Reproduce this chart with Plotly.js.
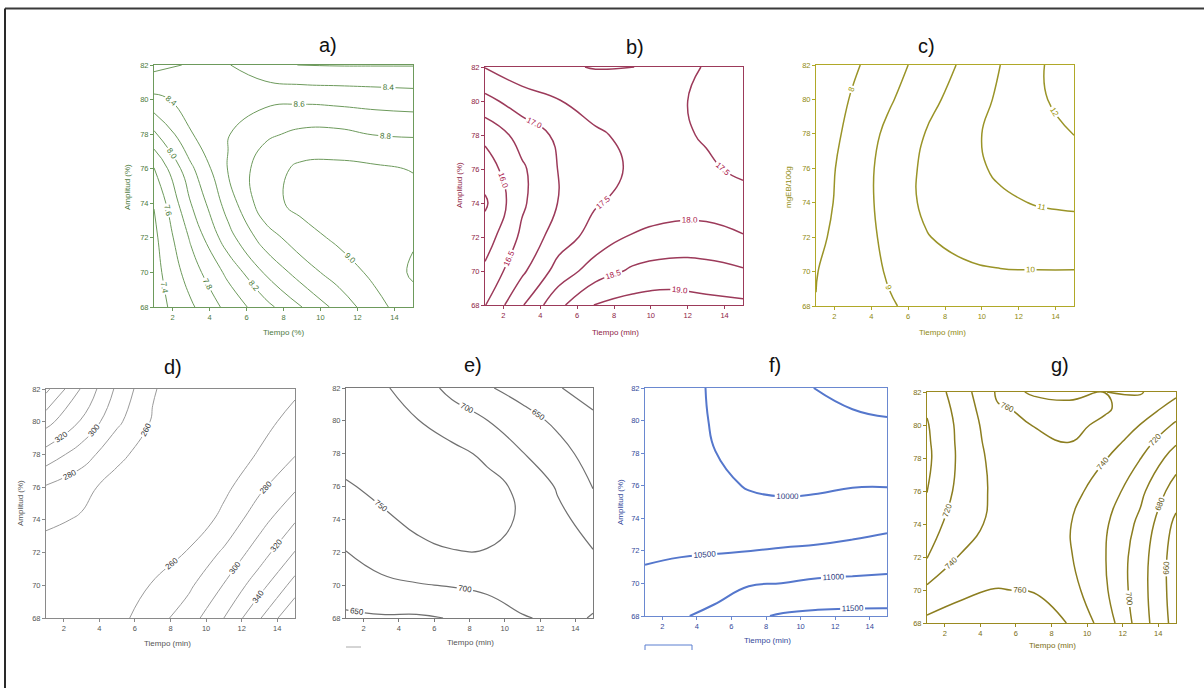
<!DOCTYPE html>
<html>
<head>
<meta charset="utf-8">
<script src="https://cdn.plot.ly/plotly-3.0.1.min.js"></script>
<style>
html,body{margin:0;padding:0;background:#fff}
#chart{width:1204px;height:688px}
</style>
</head>
<body>
<div id="chart"></div>
<script>
// Response surfaces: Tiempo (min) vs Amplitud (%), sampled on a regular grid.
const tiempo   = [1, 3, 5, 7, 9, 11, 13, 15];
const amplitud = [68, 70, 72, 74, 76, 78, 80, 82];
// g) is sampled more densely near the top edge
const amplitudG = [68, 70, 72, 74, 76, 78, 79, 80, 81, 82];
const xTicks   = [2, 4, 6, 8, 10, 12, 14];
const yTicks   = [68, 70, 72, 74, 76, 78, 80, 82];

// a) rows follow amplitud, columns follow tiempo
const zA = [
  [7.30, 7.57, 7.86, 8.13, 8.40, 8.67, 8.94, 9.12],
  [7.32, 7.70, 8.05, 8.42, 8.70, 8.90, 9.05, 9.23],
  [7.35, 7.83, 8.32, 8.70, 8.92, 9.04, 9.12, 9.18],
  [7.41, 8.00, 8.49, 8.93, 9.06, 9.08, 9.07, 9.07],
  [7.59, 8.16, 8.61, 8.92, 9.04, 9.05, 9.03, 8.99],
  [7.96, 8.39, 8.59, 8.76, 8.85, 8.85, 8.79, 8.78],
  [8.35, 8.47, 8.51, 8.55, 8.56, 8.54, 8.52, 8.50],
  [8.66, 8.58, 8.41, 8.27, 8.19, 8.19, 8.19, 8.19]
];
// b)
const zB = [
  [16.48, 17.45, 18.38, 19.03, 19.20, 19.25, 19.15, 19.10],
  [16.10, 16.90, 17.70, 18.25, 18.58, 18.70, 18.68, 18.55],
  [15.75, 16.60, 17.26, 17.70, 18.05, 18.17, 18.15, 18.03],
  [15.42, 16.42, 17.02, 17.46, 17.65, 17.78, 17.82, 17.70],
  [15.75, 16.42, 17.02, 17.35, 17.55, 17.62, 17.58, 17.40],
  [16.12, 16.70, 17.10, 17.43, 17.62, 17.62, 17.45, 17.25],
  [16.85, 17.25, 17.48, 17.70, 17.75, 17.60, 17.40, 17.20],
  [17.52, 17.82, 17.95, 18.02, 18.01, 17.80, 17.45, 17.15]
];
// c) mgEB/100g
const zC = [
  [8.02, 8.50, 8.92, 9.30, 9.55, 9.70, 9.75, 9.80],
  [7.97, 8.50, 9.10, 9.50, 9.80, 9.95, 9.97, 9.97],
  [7.78, 8.50, 9.25, 9.95, 10.35, 10.50, 10.55, 10.56],
  [7.60, 8.46, 9.40, 10.20, 10.62, 10.85, 11.05, 11.15],
  [7.50, 8.45, 9.40, 10.20, 10.72, 11.15, 11.40, 11.55],
  [7.35, 8.30, 9.25, 10.05, 10.70, 11.30, 11.70, 12.02],
  [7.20, 8.10, 8.90, 9.70, 10.45, 11.15, 11.80, 12.50],
  [7.10, 7.85, 8.60, 9.40, 10.15, 11.00, 11.85, 12.60]
];
// d)
const zD = [
  [248, 246, 254, 271, 290, 320, 358, 400],
  [249, 242, 245, 262, 276, 301, 332, 368],
  [252, 245, 238, 242, 262, 283, 310, 341],
  [264, 258, 245, 235, 245, 266, 292, 318],
  [278, 266, 252, 240, 238, 255, 276, 297],
  [312, 290, 265, 250, 240, 245, 262, 279],
  [347, 318, 284, 258, 242, 240, 252, 268],
  [385, 338, 296, 262, 245, 240, 245, 256]
];
// e)
const zE = [
  [640, 645, 644, 652, 675, 698, 705, 699],
  [680, 690, 697, 703, 710, 715, 712, 706],
  [699, 720, 738, 748, 748, 738, 722, 702],
  [725, 742, 760, 768, 765, 745, 712, 680],
  [745, 762, 772, 772, 762, 742, 695, 648],
  [768, 772, 770, 762, 742, 702, 668, 630],
  [770, 765, 752, 728, 701, 670, 640, 610],
  [765, 757, 728, 685, 655, 630, 603, 580]
];
// f)
const zF = [
  [10720, 10950, 11120, 11420, 11550, 11600, 11620, 11620],
  [10580, 10700, 10780, 10960, 11005, 11080, 11100, 11120],
  [10440, 10450, 10470, 10495, 10540, 10580, 10640, 10700],
  [10360, 10310, 10250, 10180, 10160, 10170, 10240, 10330],
  [10320, 10240, 10110, 9970, 9920, 9945, 9985, 9985],
  [10290, 10190, 10005, 9930, 9840, 9810, 9790, 9780],
  [10260, 10150, 9970, 9880, 9760, 9650, 9580, 9530],
  [10230, 10120, 9960, 9830, 9650, 9480, 9350, 9250]
];
// g) rows follow amplitudG
const zG = [
  [765, 772, 782, 782, 758, 732, 690, 652],
  [744, 755, 761, 758, 748, 723, 688, 650],
  [719, 742, 750, 749, 742, 721, 689, 650],
  [710, 733, 745, 745, 741, 723, 695, 655],
  [699.5, 728, 745, 746, 745, 733, 705, 670],
  [696, 726, 748, 751, 754, 741, 720.5, 690],
  [697, 726.5, 751, 756, 760.3, 750, 730, 703],
  [698.5, 727, 754, 760.5, 764, 757, 739.5, 717],
  [702, 729, 758.5, 763, 761.5, 762, 752, 731],
  [706, 732, 763, 759, 758.5, 759.9, 761.5, 745]
];

const W = 1204, H = 688;
const FONT = '"Liberation Sans", Arial, sans-serif';

// Panel setup: plot box in pixels [left, top, right, bottom], title/axis-label anchors, styling
const panels = [
  {z: zA, y: amplitud, lv: [7.4, 9.2, 0.2], fmt: '.1f', box: [154, 65, 413, 307], tag: 'a)', tagAt: [328, 45],
   xt: 'Tiempo (%)', xtAt: [283, 332], yt: 'Amplitud (%)', ytAt: [128, 187],
   line: '#6d9a5c', lab: '#3f7530', axis: '#6d9a5c', tick: '#4d7a40', lw: 1},
  {z: zB, y: amplitud, lv: [15.5, 19.0, 0.5], fmt: '.1f', box: [485, 67, 743, 305], tag: 'b)', tagAt: [635, 47],
   xt: 'Tiempo (min)', xtAt: [615, 332], yt: 'Amplitud (%)', ytAt: [460, 185],
   line: '#9c3a5a', lab: '#a8154a', axis: '#9c3a5a', tick: '#8e2345', lw: 1.5},
  {z: zC, y: amplitud, lv: [8, 12, 1], fmt: '.0f', box: [816, 65, 1074, 306], tag: 'c)', tagAt: [926, 46],
   xt: 'Tiempo (min)', xtAt: [942, 332], yt: 'mgEB/100g', ytAt: [789, 187],
   line: '#9a9428', lab: '#9a9200', axis: '#b0a828', tick: '#8f8a10', lw: 1.5},
  {z: zD, y: amplitud, lv: [260, 380, 20], fmt: '.0f', box: [46, 389, 295, 618], tag: 'd)', tagAt: [173, 367],
   xt: 'Tiempo (min)', xtAt: [167, 643], yt: 'Amplitud (%)', ytAt: [20, 503],
   line: '#9a9a9a', lab: '#333333', axis: '#8a8a8a', tick: '#555555', lw: 1},
  {z: zE, y: amplitud, lv: [600, 750, 50], fmt: '.0f', box: [346, 388, 593, 618], tag: 'e)', tagAt: [473, 365],
   xt: 'Tiempo (min)', xtAt: [470, 642], yt: '', ytAt: null,
   line: '#707070', lab: '#333333', axis: '#7a7a7a', tick: '#555555', lw: 1.2},
  {z: zF, y: amplitud, lv: [9500, 11500, 500], fmt: '.0f', box: [645, 388, 887, 616], tag: 'f)', tagAt: [775, 365],
   xt: 'Tiempo (min)', xtAt: [767, 640], yt: 'Amplitud (%)', ytAt: [620, 502],
   line: '#5577cc', lab: '#2a3a80', axis: '#6a88d0', tick: '#33489a', lw: 2},
  {z: zG, y: amplitudG, lv: [660, 760, 20], fmt: '.0f', box: [927, 392, 1176, 623], tag: 'g)', tagAt: [1060, 365],
   xt: 'Tiempo (min)', xtAt: [1052, 645], yt: '', ytAt: null,
   line: '#8c7e20', lab: '#5e5410', axis: '#9a8a20', tick: '#7a6e12', lw: 1.5}
];

const px = v => v / W;
const py = v => 1 - v / H;

const data = [];
const layout = {
  width: W, height: H,
  margin: {l: 0, r: 0, t: 0, b: 0},
  paper_bgcolor: '#ffffff', plot_bgcolor: '#ffffff',
  showlegend: false,
  font: {family: FONT, color: '#222'},
  annotations: [],
  shapes: []
};

panels.forEach((p, i) => {
  const n = i === 0 ? '' : String(i + 1);
  data.push({
    type: 'contour',
    x: tiempo, y: p.y, z: p.z,
    xaxis: 'x' + n, yaxis: 'y' + n,
    showscale: false, hoverinfo: 'skip',
    autocontour: false,
    contours: {
      start: p.lv[0], end: p.lv[1], size: p.lv[2],
      coloring: 'none', showlabels: true, labelformat: p.fmt,
      labelfont: {family: FONT, size: 8, color: p.lab}
    },
    line: {color: p.line, width: p.lw, smoothing: 1.3}
  });
  const [l, t, r, b] = p.box;
  const common = {
    ticks: 'outside', ticklen: 3, tickwidth: 1, tickcolor: p.axis,
    showline: true, mirror: true, linecolor: p.axis, linewidth: 1,
    showgrid: false, zeroline: false, fixedrange: true,
    tickfont: {family: FONT, size: 7.5, color: p.tick}
  };
  layout['xaxis' + n] = Object.assign({}, common, {
    domain: [px(l), px(r)], range: [1, 15], tickmode: 'array', tickvals: xTicks,
    anchor: 'y' + n
  });
  layout['yaxis' + n] = Object.assign({}, common, {
    domain: [py(b), py(t)], range: [68, 82], tickmode: 'array', tickvals: yTicks,
    anchor: 'x' + n
  });
  layout.annotations.push({
    xref: 'paper', yref: 'paper', x: px(p.tagAt[0]), y: py(p.tagAt[1]),
    text: p.tag, showarrow: false, xanchor: 'center', yanchor: 'middle',
    font: {family: FONT, size: 20, color: '#111'}
  });
  layout.annotations.push({
    xref: 'paper', yref: 'paper', x: px(p.xtAt[0]), y: py(p.xtAt[1]),
    text: p.xt, showarrow: false, xanchor: 'center', yanchor: 'middle',
    font: {family: FONT, size: 8, color: p.tick}
  });
  if (p.ytAt) {
    layout.annotations.push({
      xref: 'paper', yref: 'paper', x: px(p.ytAt[0]), y: py(p.ytAt[1]),
      text: p.yt, showarrow: false, textangle: -90, xanchor: 'center', yanchor: 'middle',
      font: {family: FONT, size: 8, color: p.tick}
    });
  }
});

// Outer frame (top and left edges) and small leftover marks below e) and f)
const seg = (x0, y0, x1, y1, color, width) => ({
  type: 'line', xref: 'paper', yref: 'paper',
  x0: px(x0), y0: py(y0), x1: px(x1), y1: py(y1),
  line: {color: color, width: width}
});
layout.shapes.push(seg(5, 8.5, 1204, 8.5, '#3a3a3a', 2));
layout.shapes.push(seg(5, 8.5, 5, 688, '#2a2a2a', 2));
layout.shapes.push(seg(346, 647, 361, 647, '#aaaaaa', 1));
layout.shapes.push(seg(645, 645, 692, 645, '#5b7fd0', 1));
layout.shapes.push(seg(645, 645, 645, 650, '#5b7fd0', 1));
layout.shapes.push(seg(692, 645, 692, 650, '#5b7fd0', 1));

Plotly.newPlot('chart', data, layout, {displayModeBar: false, staticPlot: true});
</script>
</body>
</html>
